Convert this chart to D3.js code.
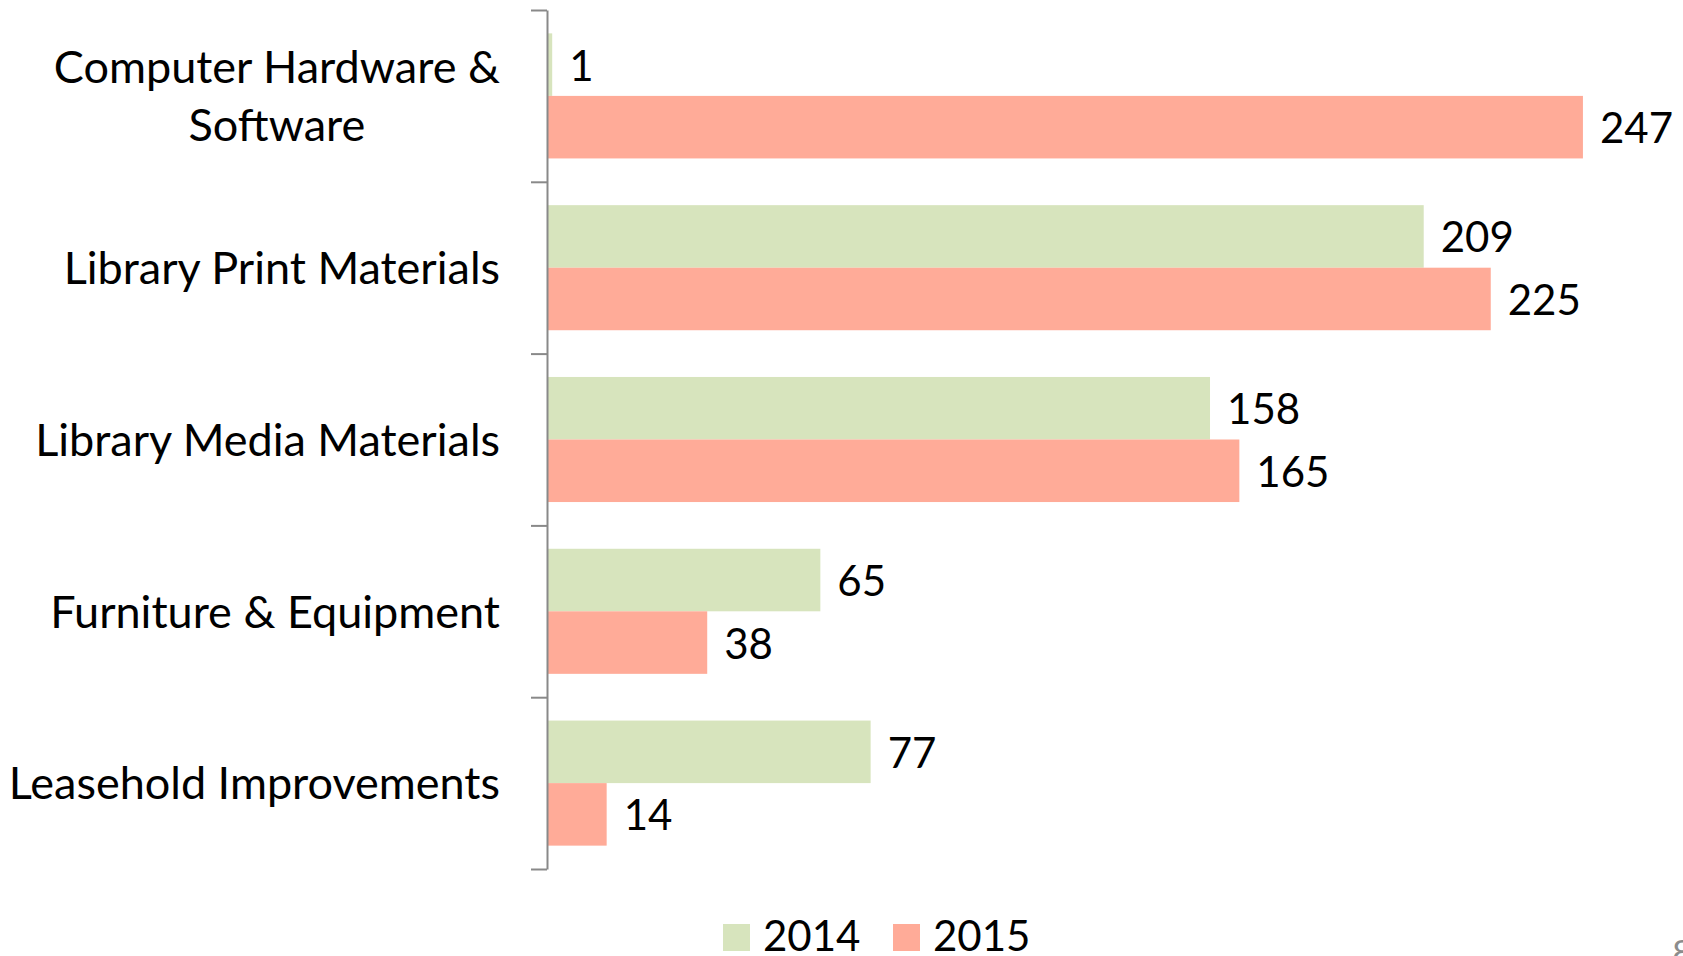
<!DOCTYPE html>
<html>
<head>
<meta charset="utf-8">
<script src="https://cdn.jsdelivr.net/npm/d3@7"></script>
<style>
  body { margin: 0; background: #fff; }
  svg text { font-family: Lato, "Open Sans", sans-serif; fill: #000; }
</style>
</head>
<body>
<svg id="chart"></svg>
<script>
const categories = [
    ["Computer Hardware &", "Software"],
    ["Library Print Materials"],
    ["Library Media Materials"],
    ["Furniture & Equipment"],
    ["Leasehold Improvements"]
];
const seriesNames = ["2014", "2015"];
const values2014 = [1, 209, 158, 65, 77];
const values2015 = [247, 225, 165, 38, 14];
const colors = ["#d7e4bd", "#ffab98"];

const width = 1683, height = 956;
const margin = {top: 10, left: 548, bottom: 87};

const svg = d3.select("#chart")
    .attr("width", width)
    .attr("height", height);

const rows = categories.map((c, i) => ({
    label: c,
    values: [values2014[i], values2015[i]]
}));

const yScale = d3.scaleBand()
    .domain(d3.range(categories.length))
    .range([margin.top, height - margin.bottom])
    .paddingInner(0.272)
    .paddingOuter(0.136);

const ySub = d3.scaleBand()
    .domain(seriesNames)
    .range([0, yScale.bandwidth()]);

const xScale = d3.scaleLinear()
    .domain([0, 250])
    .range([margin.left, margin.left + 1047.5]);

// bars
const groups = svg.selectAll(".cat")
    .data(rows)
    .join("g")
    .attr("class", "cat")
    .attr("transform", (d, i) => `translate(0,${yScale(i)})`);

groups.selectAll("rect")
    .data(d => d.values.map((v, j) => ({v, s: seriesNames[j], j})))
    .join("rect")
    .attr("x", xScale(0))
    .attr("y", d => ySub(d.s))
    .attr("width", d => xScale(d.v) - xScale(0))
    .attr("height", ySub.bandwidth())
    .attr("fill", d => colors[d.j]);

groups.selectAll(".val")
    .data(d => d.values.map((v, j) => ({v, s: seriesNames[j]})))
    .join("text")
    .attr("class", "val")
    .attr("x", d => xScale(d.v) + 17)
    .attr("y", d => ySub(d.s) + ySub.bandwidth() / 2)
    .attr("dy", "0.38em")
    .style("font-size", "42px")
    .text(d => d.v);

// axis with ticks between categories
const tickScale = d3.scaleLinear()
    .domain([0, categories.length])
    .range(yScale.range());

const axis = d3.axisLeft(tickScale)
    .ticks(categories.length)
    .tickSize(16)
    .tickSizeOuter(0)
    .tickFormat("");

svg.append("g")
    .attr("transform", `translate(${margin.left - 1},0)`)
    .call(axis)
    .call(g => g.selectAll("path, line").attr("stroke", "#898989").attr("stroke-width", 2));

// category labels: block right-aligned at x=500, lines centred within the block
const labelRight = 500;
svg.selectAll(".catlabel")
    .data(rows)
    .join("g")
    .attr("class", "catlabel")
    .attr("transform", (d, i) => `translate(0,${yScale(i) + yScale.bandwidth() / 2})`)
    .each(function(d) {
        const g = d3.select(this);
        const n = d.label.length;
        const texts = d.label.map((t, k) => g.append("text")
            .attr("text-anchor", "middle")
            .attr("y", (k - (n - 1) / 2) * 58)
            .attr("dy", "0.36em")
            .style("font-size", "45px")
            .text(t));
        const widest = d3.max(texts, t => t.node().getComputedTextLength());
        texts.forEach(t => t.attr("x", labelRight - widest / 2));
    });

// legend
const legend = svg.append("g")
    .attr("transform", "translate(723,924)");

const legendItems = legend.selectAll("g")
    .data(seriesNames)
    .join("g")
    .attr("transform", (d, i) => `translate(${i * 170},0)`);

legendItems.append("rect")
    .attr("width", 27)
    .attr("height", 27)
    .attr("fill", (d, i) => colors[i]);

legendItems.append("text")
    .attr("x", 40)
    .attr("y", 27)
    .style("font-size", "42px")
    .text(d => d);

// page number
svg.append("text")
    .attr("x", 1672)
    .attr("y", 966)
    .style("font-size", "36px")
    .style("fill", "#8c8c8c")
    .text("8");
</script>
</body>
</html>
